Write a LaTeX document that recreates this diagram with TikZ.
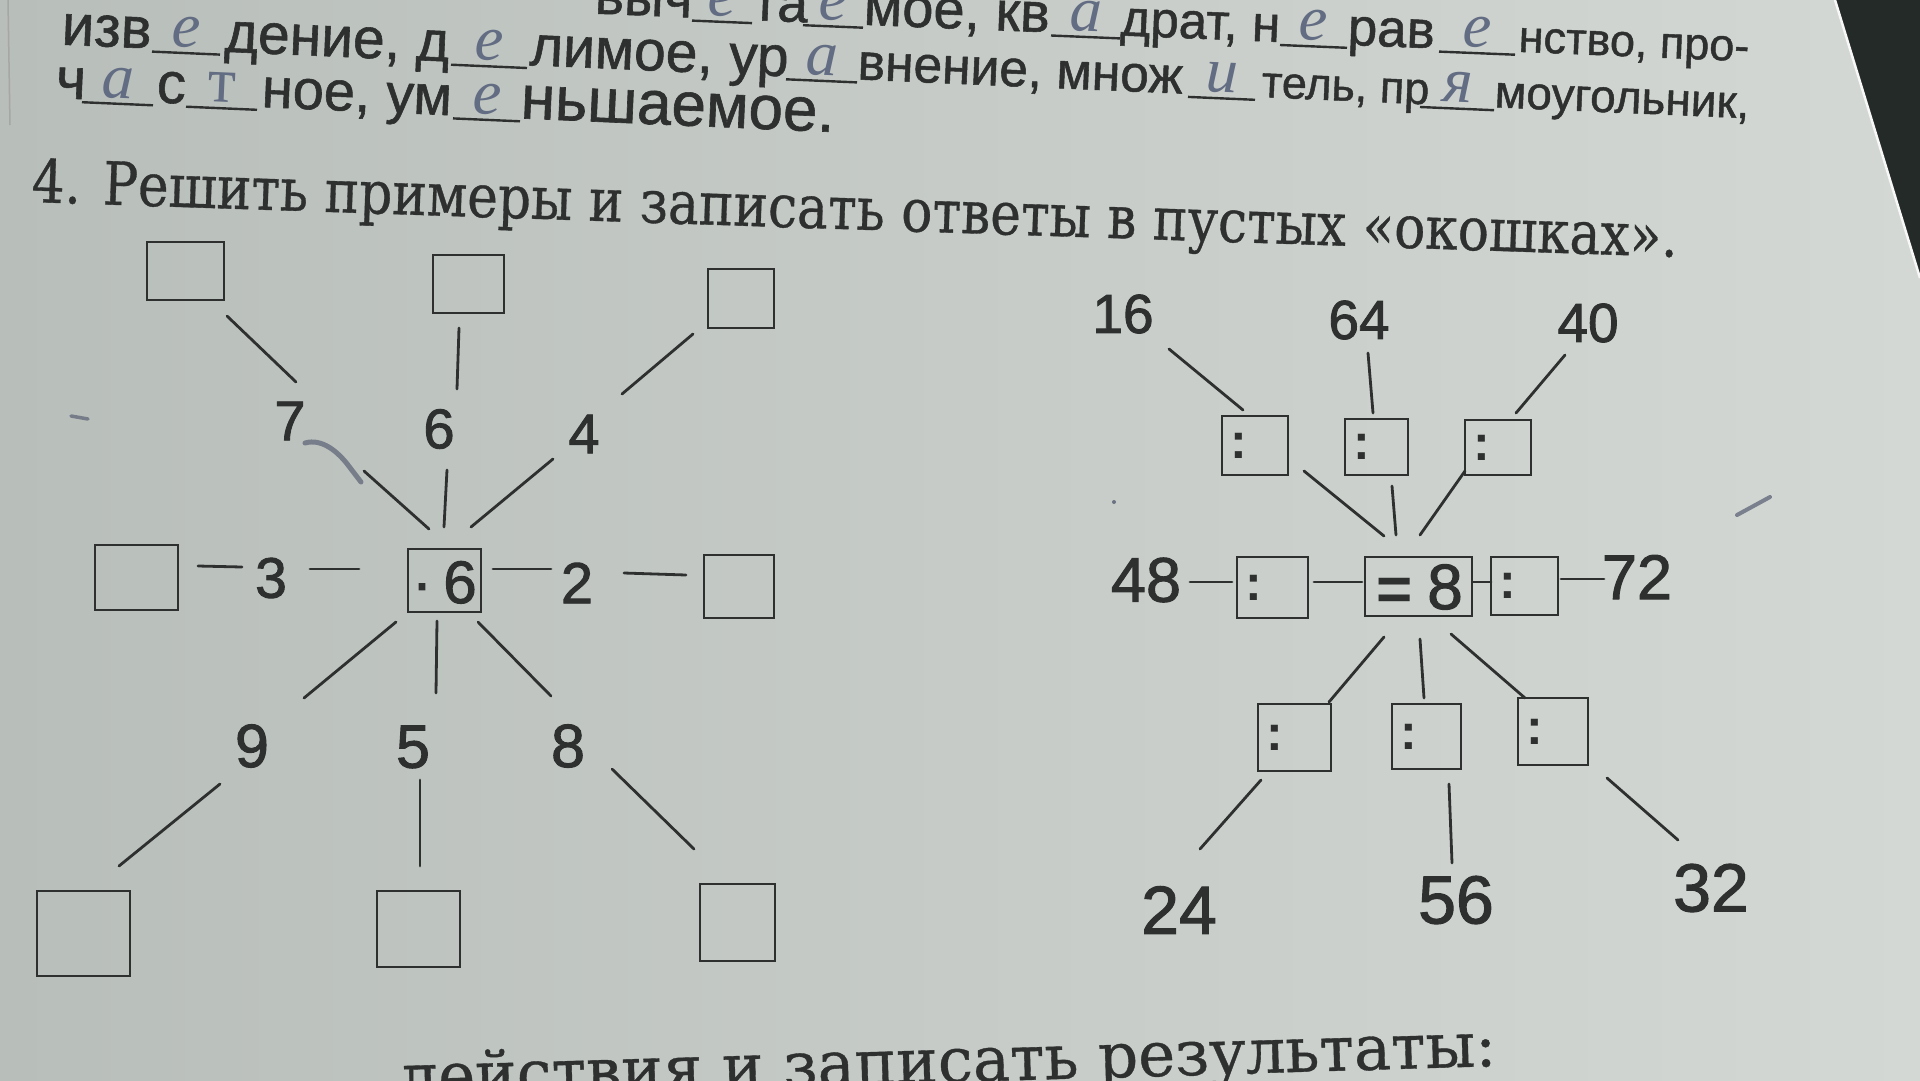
\documentclass[tikz,border=0pt]{standalone}
\usepackage{fontspec}
\usepackage{graphicx}
\setmainfont{Liberation Sans}
\newfontfamily\rowfont[FakeBold=1.0]{Liberation Sans}
\newfontfamily\titlefont[FakeBold=0.6]{DejaVu Serif}
\newfontfamily\numfont[FakeBold=1.6]{Liberation Sans}
\newfontfamily\colonfont{Liberation Sans}
\newfontfamily\penfont{Liberation Serif}
\definecolor{paperL}{RGB}{184,190,186}
\definecolor{paperR}{RGB}{212,216,212}
\definecolor{ink}{RGB}{46,48,48}
\definecolor{pen}{RGB}{98,108,130}
\definecolor{tablebg}{RGB}{36,42,40}
\begin{document}
\begin{tikzpicture}[x=1pt,y=-1pt,
  conn/.style={draw=ink,line width=2.8pt,line cap=round},
  box/.style={draw=ink,line width=2.2pt,inner sep=0pt},
  num/.style={text=ink,inner sep=0pt,font=\numfont\fontsize{#1}{#1}\selectfont},
  colon/.style={text=ink,inner sep=0pt,font=\colonfont\bfseries\fontsize{50}{50}\selectfont},
  seg/.style={text=ink,inner sep=0pt,anchor=base west,font=\rowfont\fontsize{#1}{#1}\selectfont},
  ul/.style={draw=ink,line width=2.4pt},
  hand/.style={text=pen,inner sep=0pt,anchor=base,font=\penfont\itshape\fontsize{64}{64}\selectfont},
  serif/.style={text=ink,inner sep=0pt},
  penmark/.style={draw=pen!70!gray,line cap=round,opacity=.85}]
\useasboundingbox (0,0) rectangle (1920,1080);
\shade[left color=paperL,right color=paperR] (0,0) rectangle (1920,1080);
\fill[tablebg] (1835,0) -- (1920,0) -- (1920,278) -- cycle;
\draw[white!80!paperR,line width=2.5pt] (1835,0) -- (1920,278);
\draw[gray!70,line width=1.5pt] (8,0) -- (10,125);

% ---- row A (cut at top)
\begin{scope}[every node/.append style={rotate=-2.37}]
\node[seg=55,anchor=base east] (a1) at (692,17.6) {выч};
\node[seg=55] (a2) at (752,20.1) {та};
\node[seg=56] (a3) at (863,24.7) {мое, кв};
\node[seg=51] (a4) at (1120,35.4) {драт, н};
\node[seg=53] (a5) at (1347,44.8) {рав};
\node[seg=45] (a6) at (1518,51.8) {нство, про-};
\node[hand] (ha1) at (722,16) {е};
\node[hand] (ha2) at (833,20.4) {е};
\node[hand] (ha3) at (1085,31) {а};
\node[hand] (ha4) at (1313,40.4) {е};
\node[hand] (ha5) at (1477,47) {е};
\end{scope}
\draw[ul] (692,20.6) -- (752,23.1);
\draw[ul] (803,25.2) -- (863,27.7);
\draw[ul] (1051,35.5) -- (1120,38.4);
\draw[ul] (1280,45) -- (1347,47.8);
\draw[ul] (1439,51.6) -- (1515,54.7);

% ---- row B
\begin{scope}[every node/.append style={rotate=-2.5}]
\node[seg=58] (b1) at (61,44.6) {изв};
\node[seg=57] (b2) at (224,51.7) {дение, д};
\node[seg=57] (b3) at (529,65.1) {лимое, ур};
\node[seg=51.5] (b4) at (857,79.4) {внение, множ};
\node[seg=45] (b5) at (1261,97.1) {тель, пр};
\node[seg=46] (b6) at (1494,107.2) {моугольник,};
\node[hand] (hb1) at (186,47) {е};
\node[hand] (hb2) at (489,60.3) {е};
\node[hand] (hb3) at (821.5,75) {а};
\node[hand] (hb4) at (1221.5,92.3) {и};
\node[hand] (hb5) at (1457,102.6) {я};
\end{scope}
\draw[ul] (152,51.6) -- (220,54.6);
\draw[ul] (451,64.7) -- (527,68);
\draw[ul] (786,79.3) -- (857,82.4);
\draw[ul] (1188,96.9) -- (1255,99.8);
\draw[ul] (1420,107) -- (1494,110.2);

% ---- row C
\begin{scope}[every node/.append style={rotate=-2.5}]
\node[seg=58] (c1) at (55,98) {ч};
\node[seg=58] (c2) at (156,102.4) {с};
\node[seg=56] (c3) at (261,107) {ное, ум};
\node[seg=62] (c4) at (520,118.3) {ньшаемое.};
\node[hand] (hc1) at (117.5,98) {а};
\node[hand,font=\penfont\fontsize{64}{64}\selectfont] (hc2) at (221.5,102.3) {т};
\node[hand] (hc3) at (486.5,113.8) {е};
\end{scope}
\draw[ul] (82,102.2) -- (153,105.3);
\draw[ul] (186,106.7) -- (257,109.8);
\draw[ul] (453,118.4) -- (520,121.3);

% ---- title and bottom line
\node[serif,anchor=base west,rotate=-1.91] (title) at (31,202) {\resizebox{1647pt}{!}{\scalebox{1}[1.15]{\titlefont\fontsize{60}{70}\selectfont 4. Решить примеры и записать ответы в пустых «окошках».}}};
\node[serif,anchor=base east,rotate=1.7] (bottom) at (1497,1066) {\resizebox{1097pt}{!}{\titlefont\fontsize{60}{70}\selectfont действия и записать результаты:}};

% left diagram boxes
\node[box,minimum width=77pt,minimum height=58pt] (TL) at (185.5,271) {};
\node[box,minimum width=71pt,minimum height=58pt] (TM) at (468.5,284) {};
\node[box,minimum width=66pt,minimum height=59pt] (TR) at (741,298.5) {};
\node[box,minimum width=83pt,minimum height=65pt] (ML) at (136.5,577.5) {};
\node[box,minimum width=70pt,minimum height=63pt] (MR) at (739,586.5) {};
\node[box,minimum width=93pt,minimum height=85pt] (BL) at (83.5,933.5) {};
\node[box,minimum width=83pt,minimum height=76pt] (BM) at (418.5,929) {};
\node[box,minimum width=75pt,minimum height=77pt] (BR) at (737.5,922.5) {};
\node[box,minimum width=73pt,minimum height=63pt] (CL) at (444.5,580.5) {};
\node[num=60,anchor=base] (CLdot) at (422,603) {·};
\node[num=60,anchor=base] (CL6) at (460,603) {6};
% left numbers
\node[num=56] (n7) at (290,421) {7};
\node[num=56] (n6) at (439,429) {6};
\node[num=56] (n4) at (584,434) {4};
\node[num=57] (n3) at (271,578) {3};
\node[num=58] (n2) at (577,583) {2};
\node[num=61] (n9) at (252,746) {9};
\node[num=61] (n5) at (413,747) {5};
\node[num=61] (n8) at (568,746) {8};

% right diagram boxes
\node[box,minimum width=66pt,minimum height=59pt] (T1) at (1255,445.5) {};
\node[box,minimum width=63pt,minimum height=56pt] (T2) at (1376.5,447) {};
\node[box,minimum width=66pt,minimum height=55pt] (T3) at (1498,447.5) {};
\node[box,minimum width=71pt,minimum height=61pt] (RL) at (1272.5,587.5) {};
\node[box,minimum width=107pt,minimum height=59pt] (RC) at (1418.5,586.5) {};
\node[box,minimum width=67pt,minimum height=58pt] (RR) at (1524.5,586) {};
\node[box,minimum width=73pt,minimum height=67pt] (B1) at (1294.5,737.5) {};
\node[box,minimum width=69pt,minimum height=65pt] (B2) at (1426.5,736.5) {};
\node[box,minimum width=70pt,minimum height=67pt] (B3) at (1553,731.5) {};
\foreach \b in {T1,T2,T3,RL,RR,B1,B2,B3}
  \node[colon] (c\b) at ([xshift=18pt]\b.west) {:};
\node[text=ink,inner sep=0pt,anchor=base,font=\colonfont\bfseries\fontsize{62}{62}\selectfont] (RCeq) at (1395,610) {=};
\node[num=64] (RC8) at (1445,587) {8};
% right numbers
\node[num=55] (n16) at (1123,314) {16};
\node[num=55] (n64) at (1359,320) {64};
\node[num=55] (n40) at (1588,323) {40};
\node[num=63] (n48) at (1146,580) {48};
\node[num=63] (n72) at (1637,577) {72};
\node[num=68] (n24) at (1179,910) {24};
\node[num=68] (n56) at (1456,900) {56};
\node[num=68] (n32) at (1711,888) {32};

% connectors (short strokes with gaps, between named end points)
\foreach \i/\ax/\ay/\bx/\by in {
  1/227/316/296/382, 2/364/471/429/529, 3/459/328/457/389, 4/447/470/444/527,
  5/693/334/622/394, 6/553/459/471/527, 7/198/566/242/567, 8/310/569/359/569,
  9/493/569/551/569, 10/624/573/686/575, 11/396/622/304/698, 12/220/784/119/866,
  13/437/621/436/693, 14/420/780/420/866, 15/478/622/551/696, 16/612/769/694/849,
  17/1169/349/1243/410, 18/1368/353/1373/413, 19/1565/355/1516/413,
  20/1304/471/1384/536, 21/1392/486/1396/535, 22/1465/471/1420/535,
  23/1190/582/1232/582, 24/1314/582/1362/582, 25/1473/582/1491/582,
  26/1561/579/1604/579, 27/1384/637/1329/702, 28/1420/639/1424/698,
  29/1451/634/1525/698, 30/1261/780/1200/849, 31/1449/784/1452/863,
  32/1607/778/1678/840}{
  \coordinate (s\i a) at (\ax,\ay);
  \coordinate (s\i b) at (\bx,\by);
  \draw[conn] (s\i a) -- (s\i b);
}

% pen marks
\draw[penmark,line width=5pt] (305,443) .. controls (322,438) and (338,452) .. (348,465) .. controls (354,473) and (358,478) .. (361,482);
\draw[penmark,line width=3.5pt] (71,416) -- (88,419);
\draw[penmark,line width=4pt] (1737,515) -- (1770,497);
\fill[pen!70!gray] (1114,502) circle (2pt);
\end{tikzpicture}
\end{document}
